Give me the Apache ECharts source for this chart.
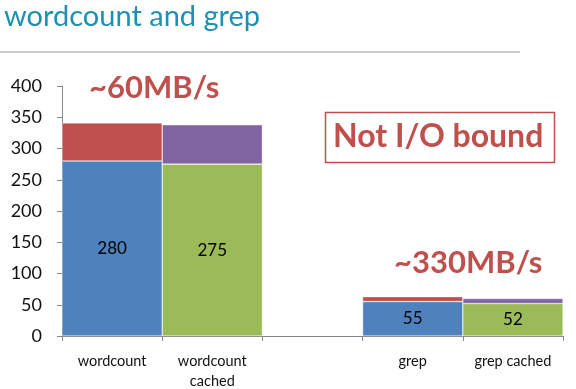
<!DOCTYPE html>
<html><head><meta charset="utf-8">
<script src="https://cdn.jsdelivr.net/npm/echarts@6/dist/echarts.min.js"></script>
<style>html,body{margin:0;padding:0;background:#fff}#c{width:576px;height:389px}</style>
</head><body><div id="c"></div>
<script>
const categories = ['wordcount', 'wordcount\ncached', '', 'grep', 'grep cached'];
const baseValues = [280, 275, null, 55, 52];
const extraValues = [61, 63, null, 8, 8];
const baseColors = ['#4F81BD', '#9BBB59', '#4F81BD', '#4F81BD', '#9BBB59'];
const extraColors = ['#C0504D', '#8064A2', '#C0504D', '#C0504D', '#8064A2'];
const yTicks = { min: 0, max: 400, interval: 50 };

const FONT = 'Lato';
const RED = '#C0504D';
const chart = echarts.init(document.getElementById('c'), null, { renderer: 'canvas' });
chart.setOption({
  animation: false,
  title: {
    text: 'wordcount and grep', left: -1, top: -3,
    textStyle: { color: '#1C91B3', fontFamily: FONT, fontWeight: 'normal', fontSize: 29 }
  },
  grid: { left: 62, right: 13, top: 86, bottom: 53, containLabel: false, outerBoundsMode: 'none' },
  xAxis: {
    type: 'category', data: categories,
    axisLine: { lineStyle: { color: '#888' } },
    axisTick: { show: true, length: 5, lineStyle: { color: '#888' } },
    axisLabel: { color: '#111', fontFamily: FONT, fontSize: 14.5, margin: 16, lineHeight: 19.5, verticalAlign: 'top', interval: 0 }
  },
  yAxis: {
    type: 'value', min: yTicks.min, max: yTicks.max, interval: yTicks.interval,
    splitLine: { show: false },
    axisLine: { show: true, lineStyle: { color: '#888' } },
    axisTick: { show: true, length: 5, lineStyle: { color: '#888' } },
    axisLabel: { color: '#111', fontFamily: FONT, fontSize: 18, margin: 20 }
  },
  series: [
    {
      type: 'bar', stack: 's', barCategoryGap: '0%',
      data: baseValues.map((v, i) => ({ value: v, itemStyle: { color: baseColors[i] } })),
      itemStyle: { borderColor: 'rgba(255,255,255,0.6)', borderWidth: 0.6 },
      label: { show: true, position: 'inside', color: '#000', fontFamily: FONT, fontSize: 17 }
    },
    {
      type: 'bar', stack: 's', barCategoryGap: '0%',
      data: extraValues.map((v, i) => ({ value: v, itemStyle: { color: extraColors[i] } })),
      itemStyle: { borderColor: 'rgba(255,255,255,0.6)', borderWidth: 0.6 }
    }
  ],
  graphic: [
    { type: 'line', shape: { x1: 0, y1: 52, x2: 520, y2: 52 }, style: { stroke: '#bbb', lineWidth: 1.5 } },
    { type: 'text', style: { x: 89, y: 88, text: '~60MB/s', fill: RED, font: 'bold 31px Lato', textVerticalAlign: 'middle' } },
    { type: 'rect', shape: { x: 325.5, y: 112.5, width: 229, height: 50 }, style: { fill: 'none', stroke: RED, lineWidth: 1.5 } },
    { type: 'text', style: { x: 333, y: 137, text: 'Not I/O bound', fill: RED, font: 'bold 32px Lato', textVerticalAlign: 'middle' } },
    { type: 'text', style: { x: 394, y: 263, text: '~330MB/s', fill: RED, font: 'bold 31px Lato', textVerticalAlign: 'middle' } }
  ]
});
</script></body></html>
